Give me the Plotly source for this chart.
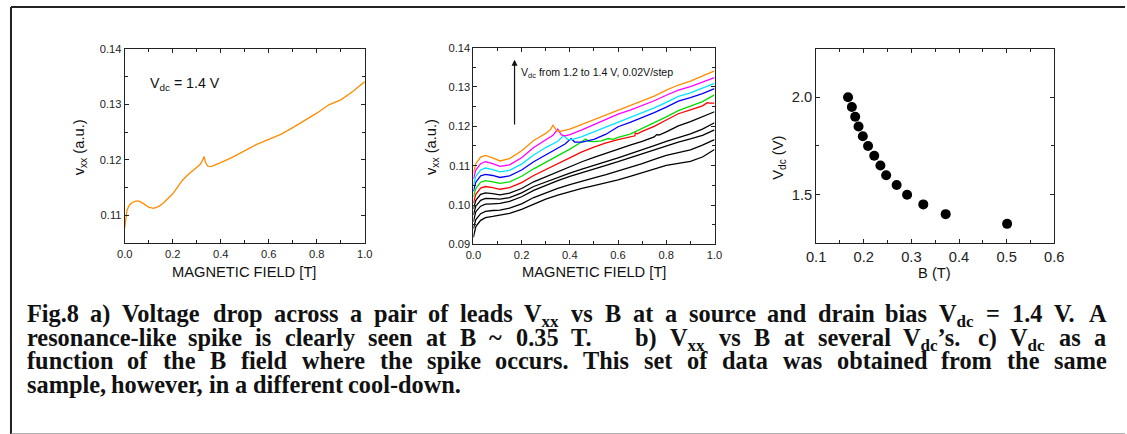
import re
import plotly.graph_objects as go

# The page shows the graph inside an 8 px body margin and the 1143 x 450 page area is
# photographed down to 1127 x 434, so layout positions are given in final-picture pixels
# and converted back to figure coordinates below.
OUT_W, OUT_H = 1127, 434
BODY_MARGIN = 8
SX, SY = OUT_W / (OUT_W + 2 * BODY_MARGIN), OUT_H / (OUT_H + 2 * BODY_MARGIN)
FIG_W, FIG_H = OUT_W + BODY_MARGIN, OUT_H + BODY_MARGIN
FONT_SCALE = 1 / SX

# ---- panel a: Vxx vs B at Vdc = 1.4 V ----
b_a = [0.000, 0.005, 0.010, 0.020, 0.030, 0.045, 0.060, 0.080, 0.100, 0.120, 0.140,
       0.160, 0.180, 0.200, 0.220, 0.240, 0.260, 0.280, 0.300, 0.315, 0.325, 0.331,
       0.336, 0.345, 0.360, 0.380, 0.400, 0.450, 0.500, 0.550, 0.600, 0.650, 0.700,
       0.750, 0.800, 0.850, 0.900, 0.950, 1.000]
v_a = [0.1078, 0.1098, 0.1110, 0.1119, 0.1123, 0.1126, 0.1126, 0.1121, 0.1115, 0.1113, 0.1116,
       0.1122, 0.1130, 0.1139, 0.1151, 0.1163, 0.1172, 0.1179, 0.1185, 0.1192, 0.1200, 0.1206,
       0.1196, 0.1189, 0.1188, 0.1191, 0.1195, 0.1205, 0.1217, 0.1228, 0.1237, 0.1246, 0.1258,
       0.1271, 0.1284, 0.1299, 0.1308, 0.1323, 0.1341]

# ---- panel b: Vxx vs B for Vdc = 1.20 ... 1.40 V ----
b_140 = [0, 0.01, 0.03, 0.05, 0.08, 0.11, 0.15, 0.2, 0.25, 0.3, 0.32, 0.33, 0.345, 0.36, 0.4,
         0.45, 0.5, 0.55, 0.6, 0.65, 0.7, 0.75, 0.8, 0.85, 0.9, 0.95, 1.0]
v_140 = [0.1082, 0.1105, 0.1122, 0.1126, 0.1120, 0.1112, 0.1118, 0.1138, 0.1164, 0.1182, 0.1192,
         0.1203, 0.1189, 0.1187, 0.1193, 0.1205, 0.1218, 0.1230, 0.1242, 0.1252, 0.1264, 0.1277,
         0.1292, 0.1305, 0.1315, 0.1328, 0.1341]

b_138 = [0, 0.01, 0.03, 0.05, 0.08, 0.11, 0.15, 0.2, 0.25, 0.3, 0.33, 0.35, 0.365, 0.38, 0.4,
         0.45, 0.5, 0.55, 0.6, 0.65, 0.7, 0.75, 0.8, 0.85, 0.9, 0.95, 1.0]
v_138 = [0.1066, 0.1089, 0.1105, 0.1110, 0.1105, 0.1098, 0.1102, 0.1120, 0.1146, 0.1166, 0.1177,
         0.1193, 0.1178, 0.1176, 0.1179, 0.1191, 0.1205, 0.1218, 0.1231, 0.1241, 0.1252, 0.1265,
         0.1279, 0.1292, 0.1301, 0.1312, 0.1324]

b_136 = [0, 0.01, 0.03, 0.05, 0.08, 0.11, 0.15, 0.2, 0.25, 0.3, 0.35, 0.375, 0.39, 0.41, 0.45,
         0.5, 0.55, 0.6, 0.65, 0.7, 0.75, 0.8, 0.85, 0.9, 0.95, 1.0]
v_136 = [0.1050, 0.1073, 0.1089, 0.1094, 0.1090, 0.1084, 0.1088, 0.1104, 0.1127, 0.1146, 0.1162,
         0.1177, 0.1167, 0.1166, 0.1174, 0.1186, 0.1199, 0.1211, 0.1222, 0.1234, 0.1247, 0.1261,
         0.1276, 0.1285, 0.1296, 0.1309]

b_134 = [0, 0.01, 0.03, 0.05, 0.08, 0.11, 0.15, 0.2, 0.25, 0.3, 0.35, 0.38, 0.405, 0.42, 0.45,
         0.5, 0.55, 0.6, 0.65, 0.7, 0.75, 0.8, 0.85, 0.9, 0.95, 1.0]
v_134 = [0.1035, 0.1058, 0.1074, 0.1078, 0.1075, 0.1070, 0.1074, 0.1089, 0.1110, 0.1128, 0.1144,
         0.1155, 0.1169, 0.1160, 0.1160, 0.1167, 0.1180, 0.1199, 0.1210, 0.1222, 0.1235, 0.1249,
         0.1264, 0.1273, 0.1283, 0.1296]

b_132 = [0, 0.01, 0.03, 0.05, 0.08, 0.11, 0.15, 0.2, 0.25, 0.3, 0.35, 0.4, 0.44, 0.465, 0.48,
         0.5, 0.53, 0.56, 0.58, 0.6, 0.65, 0.7, 0.75, 0.8, 0.85, 0.9, 0.95, 1.0]
v_132 = [0.1020, 0.1042, 0.1058, 0.1062, 0.1059, 0.1055, 0.1059, 0.1073, 0.1092, 0.1108, 0.1124,
         0.1142, 0.1157, 0.1168, 0.1162, 0.1161, 0.1163, 0.1169, 0.1167, 0.1172, 0.1180, 0.1194,
         0.1208, 0.1224, 0.1240, 0.1251, 0.1263, 0.1280]

b_130 = [0, 0.01, 0.03, 0.05, 0.08, 0.11, 0.15, 0.2, 0.25, 0.3, 0.35, 0.4, 0.45, 0.5, 0.55, 0.6,
         0.65, 0.670, 0.671, 0.68, 0.7, 0.75, 0.8, 0.85, 0.9, 0.95, 0.97, 0.98, 1.0]
v_130 = [0.1005, 0.1027, 0.1043, 0.1047, 0.1044, 0.1040, 0.1044, 0.1057, 0.1075, 0.1090, 0.1106,
         0.1121, 0.1135, 0.1147, 0.1158, 0.1166, 0.1173, 0.1176, 0.1183, 0.1181, 0.1187, 0.1200,
         0.1216, 0.1232, 0.1242, 0.1252, 0.1260, 0.1259, 0.1259]

b_128 = [0, 0.01, 0.03, 0.05, 0.08, 0.11, 0.15, 0.2, 0.25, 0.3, 0.35, 0.4, 0.45, 0.5, 0.55, 0.6,
         0.65, 0.7, 0.75, 0.76, 0.77, 0.8, 0.85, 0.9, 0.95, 1.0]
v_128 = [0.0990, 0.1012, 0.1027, 0.1031, 0.1029, 0.1026, 0.1030, 0.1042, 0.1059, 0.1072, 0.1085,
         0.1098, 0.1110, 0.1121, 0.1132, 0.1142, 0.1152, 0.1162, 0.1173, 0.1179, 0.1178, 0.1186,
         0.1201, 0.1212, 0.1225, 0.1237]

b_grid = [0, 0.01, 0.03, 0.05, 0.08, 0.11, 0.15, 0.2, 0.25, 0.3, 0.35, 0.4, 0.45, 0.5, 0.55,
          0.6, 0.65, 0.7, 0.75, 0.8, 0.85, 0.9, 0.95, 1.0]
v_126 = [0.0975, 0.0997, 0.1012, 0.1017, 0.1016, 0.1015, 0.1019, 0.1031, 0.1047, 0.1059, 0.1070,
         0.1081, 0.1091, 0.1100, 0.1110, 0.1120, 0.1130, 0.1140, 0.1151, 0.1162, 0.1171, 0.1181,
         0.1193, 0.1209]
v_124 = [0.0958, 0.0983, 0.0997, 0.1002, 0.1003, 0.1004, 0.1009, 0.1021, 0.1037, 0.1050, 0.1062,
         0.1073, 0.1083, 0.1092, 0.1101, 0.1110, 0.1120, 0.1130, 0.1141, 0.1151, 0.1160, 0.1168,
         0.1177, 0.1191]
v_122 = [0.0940, 0.0963, 0.0978, 0.0984, 0.0986, 0.0987, 0.0992, 0.1003, 0.1019, 0.1031, 0.1042,
         0.1052, 0.1061, 0.1069, 0.1077, 0.1086, 0.1095, 0.1105, 0.1116, 0.1126, 0.1133, 0.1140,
         0.1152, 0.1166]
v_120 = [0.0918, 0.0945, 0.0961, 0.0968, 0.0971, 0.0974, 0.0979, 0.0989, 0.1003, 0.1015, 0.1025,
         0.1034, 0.1042, 0.1049, 0.1056, 0.1064, 0.1073, 0.1082, 0.1092, 0.1101, 0.1106, 0.1111,
         0.1122, 0.1141]

# ---- panel c: Vdc vs B field where the spike occurs ----
b_spike = [0.167, 0.175, 0.182, 0.189, 0.198, 0.209, 0.222, 0.235, 0.247, 0.269, 0.291, 0.325,
           0.372, 0.501]
vdc_spike = [2.00, 1.95, 1.90, 1.85, 1.80, 1.75, 1.70, 1.65, 1.60, 1.55, 1.50, 1.45, 1.40, 1.35]

# ---- caption lines ----
caption = [
    "Fig.8 a) Voltage drop across a pair of leads V<sub>xx</sub> vs B at a source and drain "
    "bias V<sub>dc</sub> = 1.4 V. A",
    "resonance-like spike is clearly seen at B ~ 0.35 T.   b) V<sub>xx</sub> vs B at several "
    "V<sub>dc</sub>\u2019s. c) V<sub>dc</sub> as a",
    "function of the B field where the spike occurs. This set of data was obtained from the same",
    "sample, however, in a different cool-down.",
]

SANS = "Liberation Sans, Arial, sans-serif"
SERIF = "Liberation Serif, Times New Roman, serif"


def px_x(t):
    """picture pixel column -> paper x"""
    f = t / SX - BODY_MARGIN
    return min(max(f / FIG_W, 0.0), 1.0)


def px_y(t):
    """picture pixel row -> paper y"""
    f = t / SY - BODY_MARGIN
    return min(max(1 - f / FIG_H, 0.0), 1.0)


def fs(size):
    return size * FONT_SCALE


fig = go.Figure()

fig.add_trace(go.Scatter(x=b_a, y=v_a, mode="lines", line=dict(color="#FF8C00", width=1.3),
                         xaxis="x", yaxis="y"))

series_b = [
    (b_grid, v_120, "#000000"), (b_grid, v_122, "#000000"), (b_grid, v_124, "#000000"),
    (b_grid, v_126, "#000000"), (b_128, v_128, "#000000"), (b_130, v_130, "#FF0000"),
    (b_132, v_132, "#00DD00"), (b_134, v_134, "#0000FF"), (b_136, v_136, "#00E5FF"),
    (b_138, v_138, "#FF00FF"), (b_140, v_140, "#FF8C00"),
]
for bx, vy, col in series_b:
    fig.add_trace(go.Scatter(x=bx, y=vy, mode="lines", line=dict(color=col, width=1.3),
                             xaxis="x2", yaxis="y2"))

fig.add_trace(go.Scatter(x=b_spike, y=vdc_spike, mode="markers",
                         marker=dict(color="black", size=10), xaxis="x3", yaxis="y3"))


def axis_style(**kw):
    base = dict(showline=True, linecolor="#222", linewidth=1, mirror="allticks",
                ticks="inside", ticklen=4, tickcolor="#222", showgrid=False, zeroline=False,
                tickfont=dict(family=SANS, size=fs(11), color="#222"))
    base.update(kw)
    return base


fig.update_layout(
    width=FIG_W, height=FIG_H, margin=dict(l=0, r=0, t=0, b=0),
    paper_bgcolor="white", plot_bgcolor="white", showlegend=False,
    xaxis=axis_style(domain=[px_x(123), px_x(364)], range=[0, 1], dtick=0.2, tickformat=".1f",
                     minor=dict(dtick=0.1, ticks="inside", ticklen=3, tickcolor="#222"),
                     anchor="y"),
    yaxis=axis_style(domain=[px_y(243), px_y(50)], range=[0.105, 0.14], dtick=0.01,
                     tickformat=".2f",
                     minor=dict(dtick=0.005, ticks="inside", ticklen=3, tickcolor="#222"),
                     anchor="x"),
    xaxis2=axis_style(domain=[px_x(473), px_x(715)], range=[0, 1], dtick=0.2, tickformat=".1f",
                      minor=dict(dtick=0.1, ticks="inside", ticklen=3, tickcolor="#222"),
                      anchor="y2"),
    yaxis2=axis_style(domain=[px_y(244), px_y(49)], range=[0.09, 0.14], dtick=0.01,
                      tickformat=".2f",
                      minor=dict(dtick=0.005, ticks="inside", ticklen=3, tickcolor="#222"),
                      anchor="x2"),
    xaxis3=axis_style(domain=[px_x(817), px_x(1056)], range=[0.1, 0.6], dtick=0.1,
                      tickformat=".1f", tickfont=dict(family=SANS, size=fs(14.5), color="#222"),
                      minor=dict(dtick=0.05, ticks="inside", ticklen=3, tickcolor="#222"),
                      anchor="y3"),
    yaxis3=axis_style(domain=[px_y(243), px_y(50)], range=[1.25, 2.25], dtick=0.5,
                      tickformat=".1f", tickfont=dict(family=SANS, size=fs(14.5), color="#222"),
                      minor=dict(dtick=0.25, ticks="inside", ticklen=3, tickcolor="#222"),
                      anchor="x3"),
)

ann = []


def label(text, x, y, size, rot=0, family=SANS, xanchor="center", yanchor="middle"):
    ann.append(dict(text=text, x=px_x(x), y=px_y(y), xref="paper", yref="paper",
                    showarrow=False, textangle=rot, xanchor=xanchor, yanchor=yanchor,
                    borderpad=0, borderwidth=0,
                    font=dict(family=family, size=fs(size), color="#111")))


# axis titles
label("MAGNETIC FIELD [T]", 243, 271, 14.5)
label("MAGNETIC FIELD [T]", 594, 271, 14.5)
label("B (T)", 936, 272, 14.5)
label("v<sub>xx</sub> (a.u.)", 78, 148, 14.5, rot=-90)
label("v<sub>xx</sub> (a.u.)", 431, 148, 14.5, rot=-90)
label("V<sub>dc</sub> (V)", 779, 158, 14.5, rot=-90)

# in-plot notes
label("V<sub>dc</sub> = 1.4 V", 148, 85, 14, xanchor="left")
label("V<sub>dc</sub> from 1.2 to 1.4 V, 0.02V/step", 521, 74, 10.5, xanchor="left")
# arrow pointing towards increasing Vdc
ann.append(dict(x=px_x(514.3), y=px_y(61), xref="paper", yref="paper", ax=0, ay=64 / SY,
                axref="pixel", ayref="pixel", showarrow=True, arrowhead=2, arrowsize=1,
                arrowwidth=1.2, arrowcolor="#111", text=""))

# ---- justified caption: bold serif, words placed from Times-Bold advance widths ----
TIMES_BOLD = {" ": 250, ".": 250, ",": 250, "(": 333, ")": 333, "-": 333, "~": 520, "=": 570,
              "\u2019": 420}
TIMES_BOLD.update({d: 500 for d in "0123456789"})
TIMES_BOLD.update(dict(zip("ABCDEFGHIJKLMNOPQRSTUVWXYZ",
                           [722, 667, 722, 722, 667, 611, 778, 778, 389, 500, 778, 667, 944,
                            722, 778, 611, 778, 722, 556, 667, 722, 722, 1000, 722, 722, 667])))
TIMES_BOLD.update(dict(zip("abcdefghijklmnopqrstuvwxyz",
                           [500, 556, 444, 556, 444, 333, 500, 556, 278, 333, 556, 278, 833,
                            556, 500, 556, 556, 444, 389, 333, 556, 500, 722, 500, 500, 444])))
SUB_ADVANCE = 0.75   # subscripts are set at a reduced size


def word_width(word, size):
    total = 0.0
    for part in re.split(r"(<sub>.*?</sub>)", word):
        if part.startswith("<sub>"):
            total += SUB_ADVANCE * sum(TIMES_BOLD.get(c, 500) for c in part[5:-6])
        else:
            total += sum(TIMES_BOLD.get(c, 500) for c in part)
    return total * size / 1000.0


CAP_SIZE = 24
CAP_X0, CAP_X1 = 25, 1108
CAP_TOP0, CAP_PITCH = 299, 23.5

for i, line in enumerate(caption):
    tokens = re.split(r"( +)", line)
    words = tokens[0::2]
    spaces = [len(s) for s in tokens[1::2]]
    widths = [word_width(w, CAP_SIZE) for w in words]
    if i < len(caption) - 1:
        per_space = (CAP_X1 - CAP_X0 - sum(widths)) / sum(spaces)
    else:
        per_space = 0.25 * CAP_SIZE
    x = CAP_X0
    for j, w in enumerate(words):
        label("<b>" + w + "</b>", x, CAP_TOP0 + i * CAP_PITCH, CAP_SIZE, family=SERIF,
              xanchor="left", yanchor="top")
        x += widths[j]
        if j < len(spaces):
            x += spaces[j] * per_space

fig.update_layout(annotations=ann)

# outer frame: dark top and left edges, light bottom edge
edge_l, edge_t = 1 / FIG_W, 1 - 1 / FIG_H
fig.update_layout(shapes=[
    dict(type="line", xref="paper", yref="paper", x0=edge_l, x1=1, y0=edge_t, y1=edge_t,
         line=dict(color="#222", width=2)),
    dict(type="line", xref="paper", yref="paper", x0=edge_l, x1=edge_l, y0=edge_t,
         y1=px_y(432), line=dict(color="#222", width=2)),
    dict(type="line", xref="paper", yref="paper", x0=edge_l, x1=1, y0=px_y(432),
         y1=px_y(432), line=dict(color="#999", width=1.5)),
])

fig.write_html("out.html")
